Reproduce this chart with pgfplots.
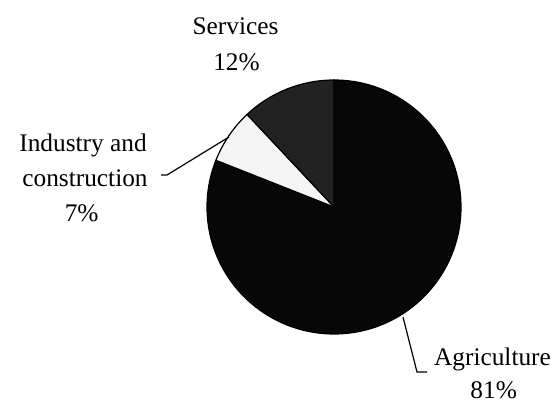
\documentclass[border=0pt]{standalone}
\usepackage{pgfplots}
\pgfplotsset{compat=1.18}
\usepackage{pgfplotstable}
\usepackage{fontspec}
\setmainfont{Liberation Serif}

\definecolor{agri}{HTML}{070707}
\definecolor{indu}{HTML}{F5F5F5}
\definecolor{serv}{HTML}{222222}

% shares in percent, drawn clockwise from 12 o'clock
\pgfplotstableread{
label value color
Agriculture 81 agri
Industry 7 indu
Services 12 serv
}\pietable

\begin{document}
\begin{tikzpicture}
\begin{axis}[
    x=0.75pt, y=0.75pt,
    xmin=0, xmax=558, ymin=0, ymax=403,
    hide axis, clip=false,
  ]
  \path (axis cs:0,0) rectangle (axis cs:558,403);

  \pgfplotstablegetrowsof{\pietable}
  \pgfmathtruncatemacro\nrows{\pgfplotsretval-1}
  \def\startang{90}
  \pgfplotsforeachungrouped \i in {0,...,\nrows}{
    \pgfplotstablegetelem{\i}{value}\of\pietable \let\val\pgfplotsretval
    \pgfplotstablegetelem{\i}{color}\of\pietable \let\col\pgfplotsretval
    \pgfmathsetmacro\endang{\startang-3.6*\val}
    \edef\temp{\noexpand\filldraw[fill=\col, draw=black, line width=0.9pt, line join=round]
      (axis cs:334,196) -- ++(\startang:95.25pt)
      arc[start angle=\startang, end angle=\endang, radius=95.25pt] -- cycle;}
    \temp
    \let\startang\endang
  }

  % leader lines
  \draw[line width=0.9pt] (axis cs:161,228) -- (axis cs:167,228) -- (axis cs:229,266);
  \draw[line width=0.9pt] (axis cs:403,86) -- (axis cs:417,31) -- (axis cs:427,31);

  % labels
  \begin{scope}[every node/.style={anchor=base, inner sep=0pt, font=\fontsize{19}{23}\selectfont}]
    \node at (axis cs:235.5,368) {Services};
    \node at (axis cs:236.5,332.3) {12\%};
    \node at (axis cs:83,251.3) {Industry and};
    \node at (axis cs:85,216.3) {construction};
    \node at (axis cs:81.7,181.3) {7\%};
    \node at (axis cs:492.5,37) {Agriculture};
    \node at (axis cs:493.7,4) {81\%};
  \end{scope}
\end{axis}
\end{tikzpicture}
\end{document}
